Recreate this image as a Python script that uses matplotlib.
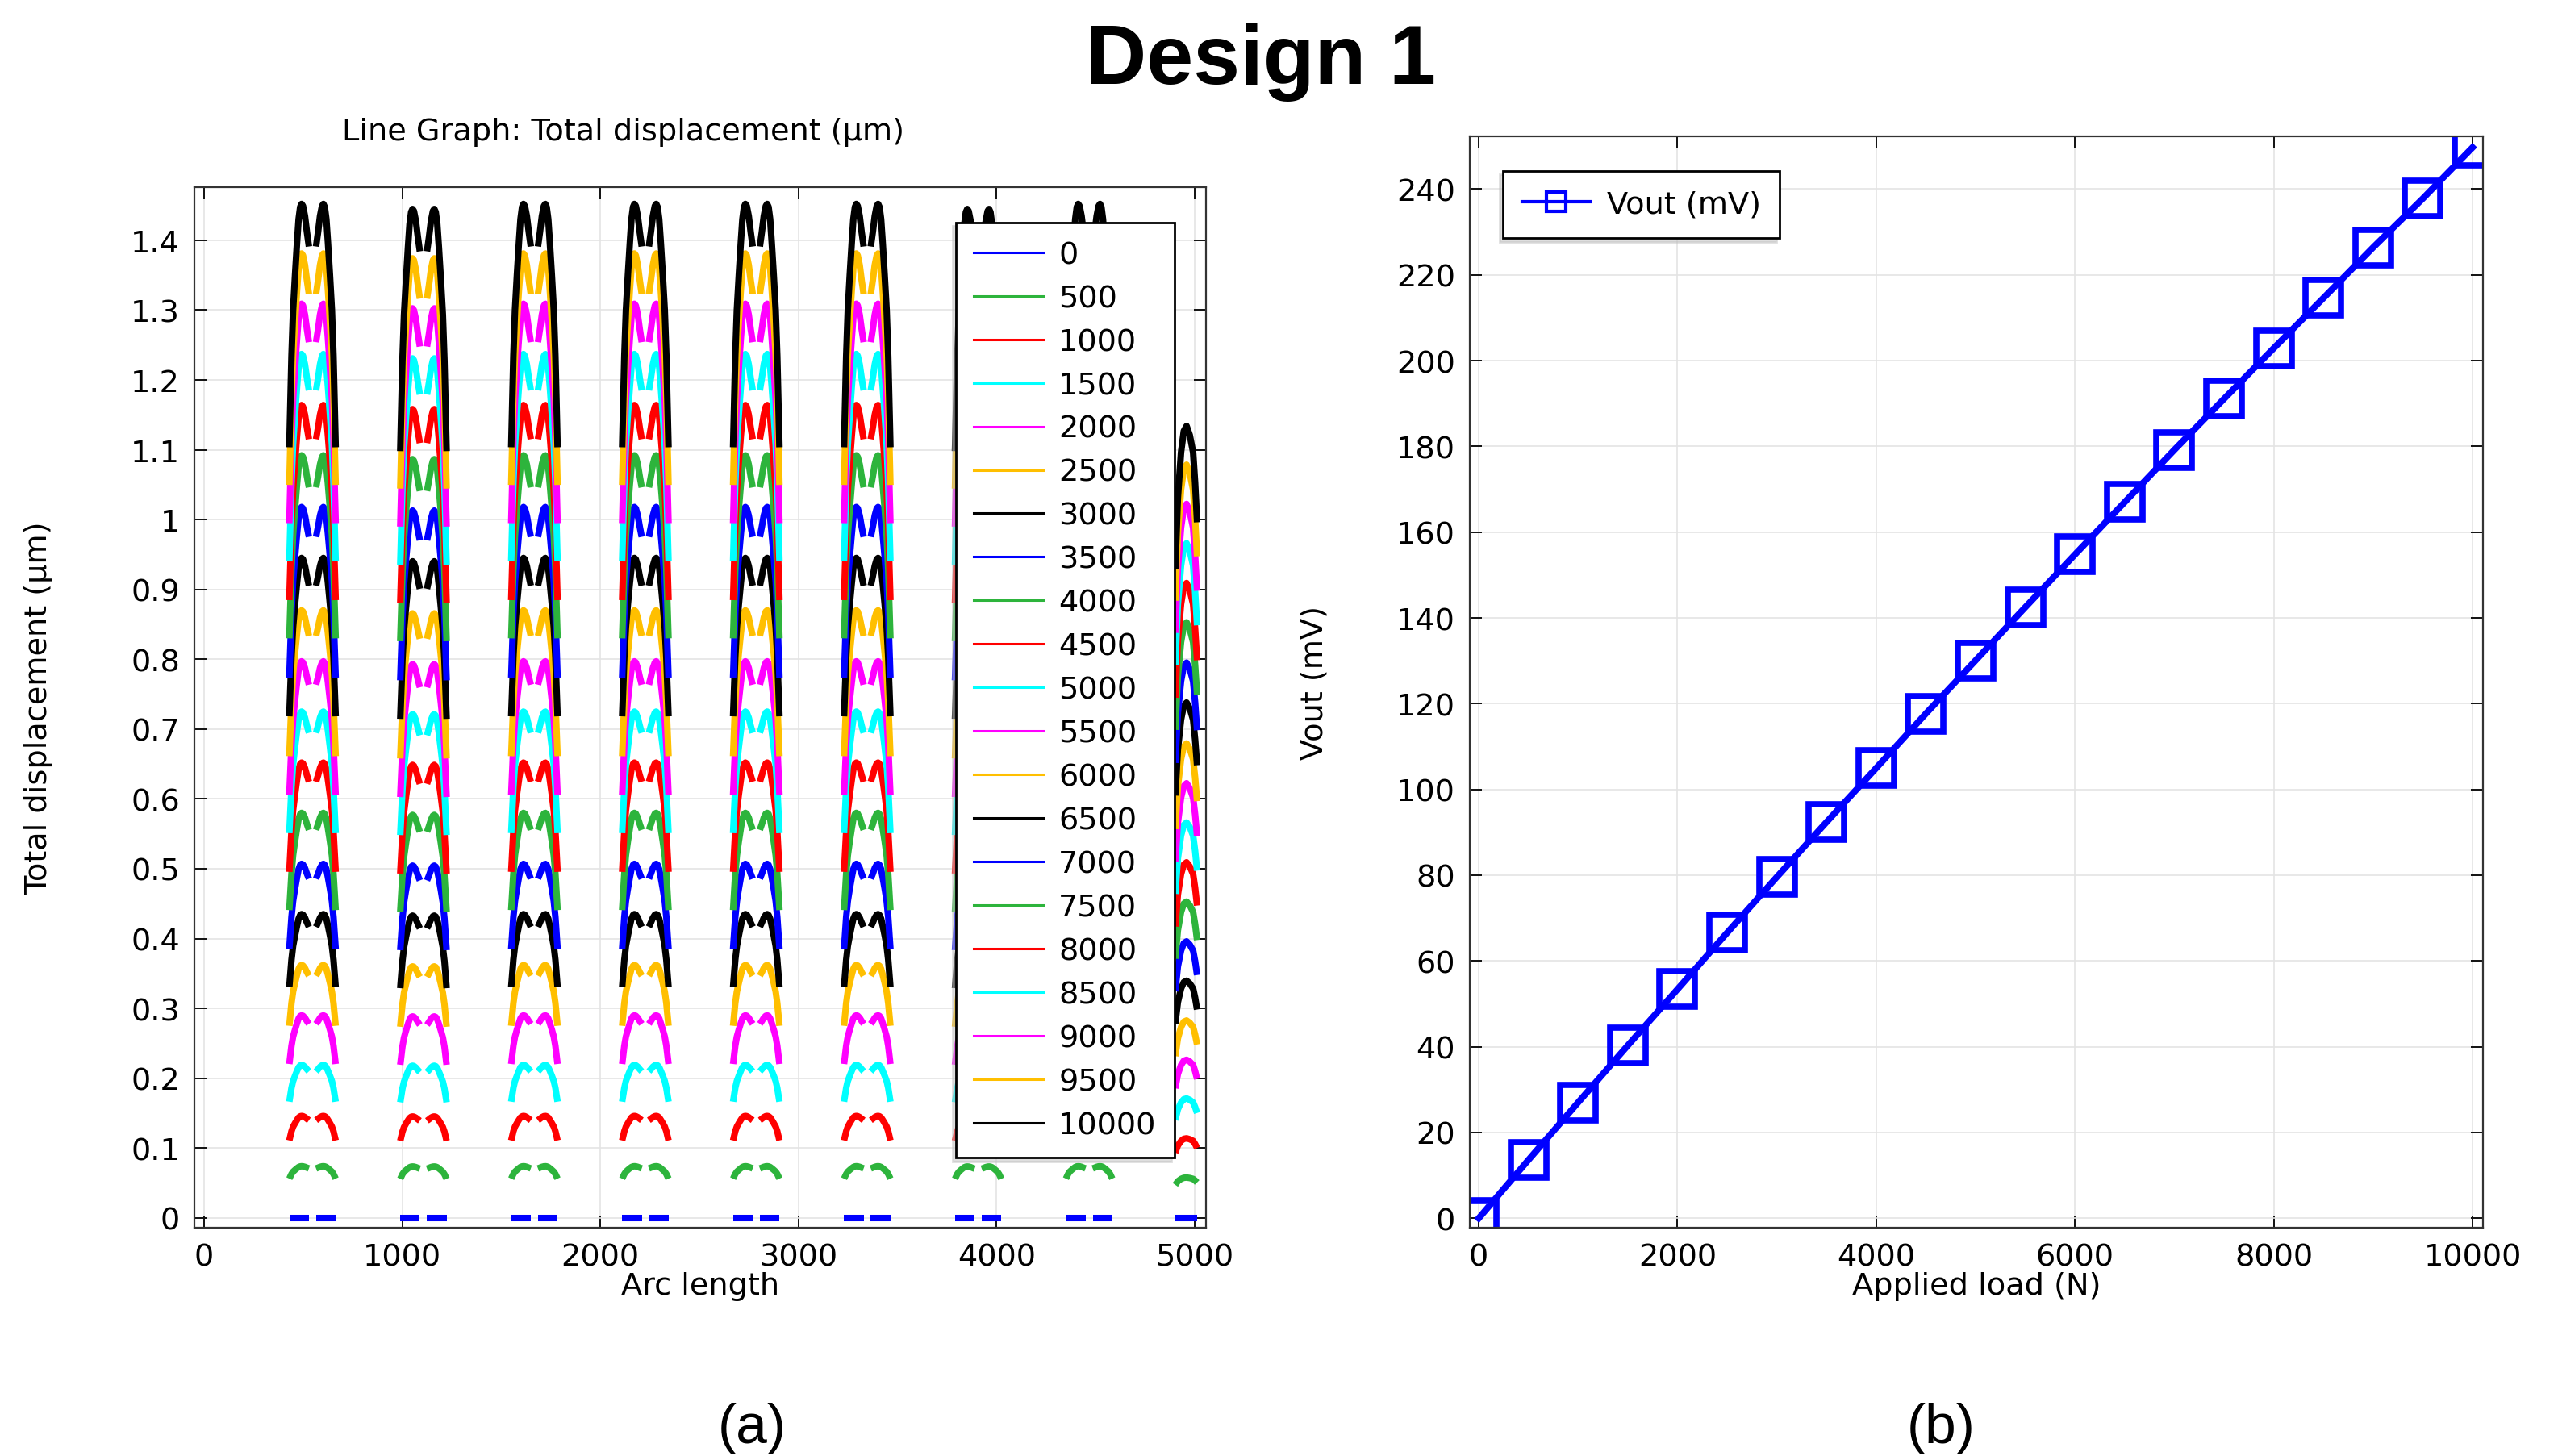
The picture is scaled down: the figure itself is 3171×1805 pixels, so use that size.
import numpy as np
import matplotlib.pyplot as plt
from matplotlib.lines import Line2D
from matplotlib.ticker import FuncFormatter

# ---- panel (a): total displacement along the arc, one curve per load ----
loads = [0, 500, 1000, 1500, 2000, 2500, 3000, 3500, 4000, 4500, 5000,
         5500, 6000, 6500, 7000, 7500, 8000, 8500, 9000, 9500, 10000]
peak_disp = [0.0, 0.074, 0.146, 0.219, 0.290, 0.362, 0.435, 0.507, 0.580,
             0.652, 0.725, 0.797, 0.870, 0.945, 1.018, 1.092, 1.164, 1.237,
             1.309, 1.381, 1.452]

hump_centers = [547, 1107, 1667, 2227, 2787, 3347, 3907, 4467]
hump_scale = [1.0, 0.995, 1.0, 1.0, 1.0, 1.0, 0.995, 1.0]

# one half of a hump: distance from hump centre -> fraction of peak
arc_offset = [18, 28, 38, 48, 55, 62, 70, 78, 88, 98, 106, 112, 117]
arc_shape = [0.958, 0.972, 0.988, 0.998, 1.0, 0.997, 0.985, 0.962, 0.93,
             0.895, 0.85, 0.80, 0.76]

# truncated hump at the end of the arc
end_arc = [4902, 4915, 4931, 4945, 4959, 4975, 4992, 5002, 5012]
end_shape = [0.64, 0.71, 0.755, 0.776, 0.781, 0.772, 0.755, 0.725, 0.686]

line_colors = ["#0000ff", "#2db43c", "#ff0000", "#00ffff", "#ff00ff",
               "#ffbf00", "#000000"]

# ---- panel (b): output voltage vs applied load ----
vout_load = [0, 500, 1000, 1500, 2000, 2500, 3000, 3500, 4000, 4500, 5000,
             5500, 6000, 6500, 7000, 7500, 8000, 8500, 9000, 9500, 10000]
vout_mv = [0.0, 13.6, 27.0, 40.3, 53.4, 66.6, 79.6, 92.4, 105.0, 117.7,
           130.1, 142.5, 154.8, 167.0, 179.2, 191.1, 202.9, 214.6, 226.4,
           237.8, 249.7]

W, H = 3171, 1806
fig = plt.figure(figsize=(W / 100, H / 100), dpi=100)
FS = 27.5


def style_axes(ax):
    ax.grid(True, color="#e4e4e4", lw=1.2)
    ax.set_axisbelow(True)
    ax.tick_params(direction="in", length=11, width=1.3, top=True, right=True,
                   labelsize=FS, pad=13)
    for sp in ax.spines.values():
        sp.set_color("#333333")
        sp.set_linewidth(1.6)


def fig_box(x0, y0, x1, y1):
    return [x0 / W, 1 - y1 / H, (x1 - x0) / W, (y1 - y0) / H]


# ---------- left plot ----------
ax1 = fig.add_axes(fig_box(241, 233, 1495, 1523))
off = np.array(arc_offset, dtype=float)
shp = np.array(arc_shape)
for i, load in enumerate(loads):
    xs, ys = [], []
    for c, s in zip(hump_centers, hump_scale):
        xs += list(c - off[::-1]) + [np.nan] + list(c + off) + [np.nan]
        ys += list(peak_disp[i] * s * shp[::-1]) + [np.nan] + \
            list(peak_disp[i] * s * shp) + [np.nan]
    xs += end_arc
    ys += [peak_disp[i] * v for v in end_shape]
    ax1.plot(xs, ys, color=line_colors[i % 7], lw=5.8, solid_capstyle="butt")

ax1.set_xlim(-49, 5057)
ax1.set_ylim(-0.014, 1.476)
ax1.set_xticks([0, 1000, 2000, 3000, 4000, 5000])
ax1.set_yticks([round(0.1 * k, 1) for k in range(15)])
ax1.yaxis.set_major_formatter(FuncFormatter(lambda v, _: f"{v:g}"))
style_axes(ax1)
ax1.set_xlabel("Arc length", fontsize=FS, va="center")
ax1.xaxis.set_label_coords(0.5, -0.056)
ax1.set_ylabel("Total displacement (µm)", fontsize=FS, va="center")
ax1.yaxis.set_label_coords(-0.154, 0.5)

handles = [Line2D([], [], color=line_colors[i % 7], lw=2.2)
           for i in range(len(loads))]
leg1 = ax1.legend(handles, [str(v) for v in loads], loc="upper left",
                  bbox_to_anchor=(1185 / W, 1 - 277 / H),
                  bbox_transform=fig.transFigure, borderaxespad=0,
                  fontsize=FS, labelspacing=0.47, handlelength=2.25,
                  handletextpad=0.5, borderpad=0.58, fancybox=False,
                  framealpha=1, edgecolor="black",
                  shadow={"ox": -3, "oy": -3, "shade": 0.25})
leg1.get_frame().set_linewidth(2)

# ---------- right plot ----------
ax2 = fig.add_axes(fig_box(1822, 170, 3078, 1523))
ax2.plot(vout_load, vout_mv, color="#0000ff", lw=5.8, marker="s", ms=32,
         mfc="none", mew=5.5, label="Vout (mV)")
ax2.set_xlim(-90, 10105)
ax2.set_ylim(-2.2, 252.3)
ax2.set_xticks([0, 2000, 4000, 6000, 8000, 10000])
ax2.set_yticks(list(range(0, 241, 20)))
style_axes(ax2)
ax2.set_xlabel("Applied load (N)", fontsize=FS, va="center")
ax2.xaxis.set_label_coords(0.5, -0.053)
ax2.set_ylabel("Vout (mV)", fontsize=FS, va="center")
ax2.yaxis.set_label_coords(-0.153, 0.5)

h2 = Line2D([], [], color="#0000ff", lw=3, marker="s", ms=17, mfc="none",
            mew=3)
leg2 = ax2.legend([h2], ["Vout (mV)"], loc="upper left",
                  bbox_to_anchor=(1863 / W, 1 - 213 / H),
                  bbox_transform=fig.transFigure, borderaxespad=0,
                  fontsize=FS, handlelength=2.2, handletextpad=0.55,
                  borderpad=0.62, fancybox=False, framealpha=1,
                  edgecolor="black", shadow={"ox": -3, "oy": -3, "shade": 0.25})
leg2.get_frame().set_linewidth(2)

# ---------- figure texts ----------
fig.text(1563 / W, 1 - 77 / H, "Design 1", ha="center", va="center",
         fontsize=75, fontweight="bold", family="Liberation Sans")
fig.text(772 / W, 1 - 164 / H, "Line Graph: Total displacement (µm)",
         ha="center", va="center", fontsize=FS)
fig.text(932 / W, 1 - 1771 / H, "(a)", ha="center", va="center",
         fontsize=50, family="Liberation Sans")
fig.text(2406 / W, 1 - 1771 / H, "(b)", ha="center", va="center",
         fontsize=50, family="Liberation Sans")

fig.savefig("out.png", dpi=100)
